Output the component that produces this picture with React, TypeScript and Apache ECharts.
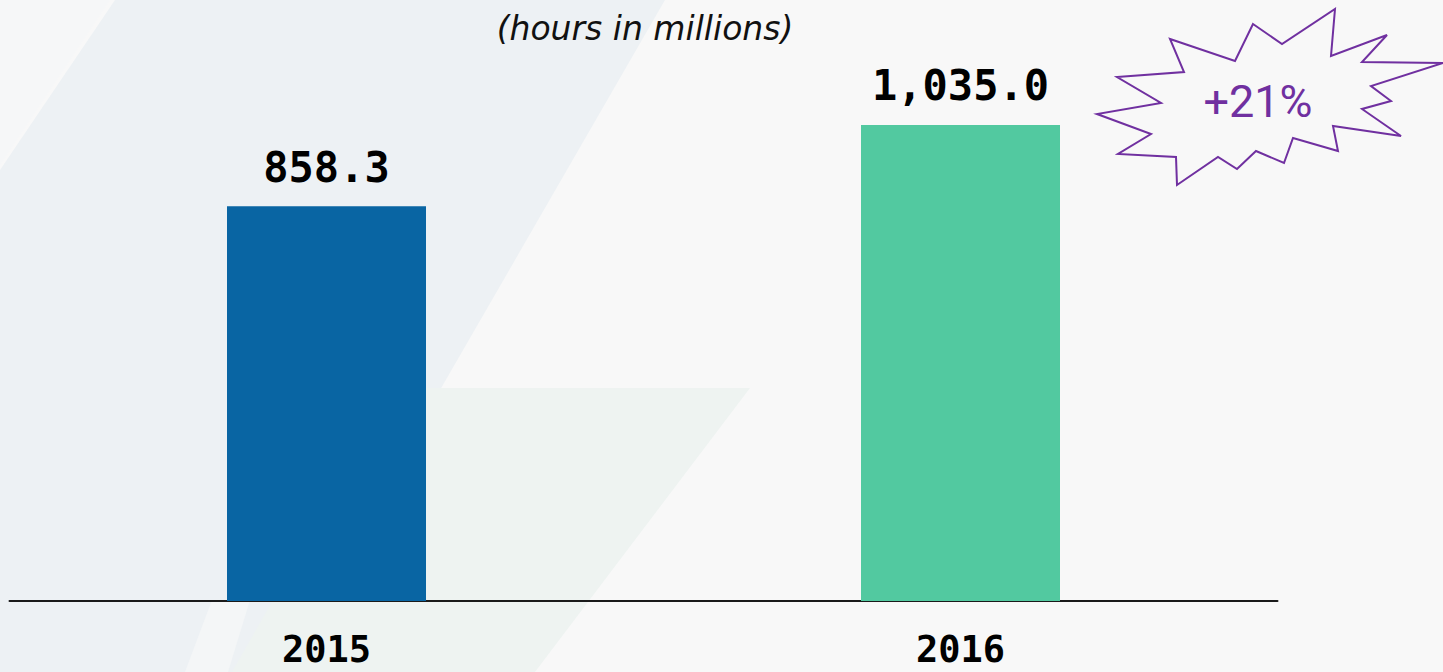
import React, { useEffect, useRef } from "react";
import * as echarts from "echarts";

const categories = ["2015", "2016"];
const hours = [858.3, 1035.0];
const valueLabels = ["858.3", "1,035.0"];
const barColors = ["#0965A3", "#52C9A0"];
const subtitle = "(hours in millions)";
const growthLabel = "+21%";

const burst: number[][] = [
  [1253, 24], [1282, 44], [1335, 9], [1331, 56], [1387, 35], [1362, 62],
  [1443, 63], [1371, 86], [1391, 101], [1362, 109], [1401, 136], [1333, 126],
  [1338, 151], [1293, 138], [1284, 163], [1256, 151], [1237, 169], [1218, 157],
  [1177, 185], [1176, 157], [1118, 154], [1151, 134], [1097, 114], [1161, 103],
  [1117, 77], [1184, 72], [1170, 39], [1235, 61],
];

export default function App() {
  const ref = useRef<HTMLDivElement>(null);
  useEffect(() => {
    if (!ref.current) return;
    const chart = echarts.init(ref.current, undefined, { renderer: "svg" });
    chart.setOption({
      animation: false,
      backgroundColor: "#f8f8f8",
      grid: { left: 9.5, right: 165.5, top: 3, bottom: 71 },
      xAxis: {
        type: "category",
        data: categories,
        axisLine: { show: true, lineStyle: { color: "#1a1a1a", width: 2 } },
        axisTick: { show: false },
        axisLabel: {
          margin: 31,
          color: "#000",
          fontFamily: "DejaVu Sans Mono",
          fontWeight: "bold",
          fontSize: 37,
          lineHeight: 34,
        },
      },
      yAxis: {
        type: "value",
        min: 0,
        max: 1300,
        show: false,
        splitLine: { show: false },
      },
      series: [
        {
          type: "bar",
          barWidth: 199,
          data: hours.map((v, i) => ({
            value: v,
            itemStyle: { color: barColors[i] },
            label: { formatter: valueLabels[i] },
          })),
          label: {
            show: true,
            position: "top",
            distance: 18,
            color: "#000",
            fontFamily: "DejaVu Sans Mono",
            fontWeight: "bold",
            fontSize: 42,
          },
        },
      ],
      graphic: [
        {
          type: "polygon",
          z: -10,
          silent: true,
          shape: { points: [[115, 0], [665, 0], [440, 390], [300, 672], [0, 672], [0, 170]] },
          style: { fill: "#edf1f4" },
        },
        {
          type: "polygon",
          z: -9,
          silent: true,
          shape: { points: [[426, 388], [750, 388], [535, 672], [232, 672], [330, 500]] },
          style: { fill: "#eef3f1" },
        },
        {
          type: "polygon",
          z: -8,
          silent: true,
          shape: { points: [[185, 672], [212, 600], [250, 600], [228, 672]] },
          style: { fill: "#f4f6f7" },
        },
        {
          type: "polygon",
          z: -8,
          silent: true,
          shape: { points: [[0, 0], [110, 0], [0, 165]] },
          style: { fill: "#f6f7f8" },
        },
        {
          type: "text",
          z: 5,
          x: 645,
          y: 28,
          style: {
            text: subtitle,
            x: 0,
            y: 0,
            textAlign: "center",
            textVerticalAlign: "middle",
            fontFamily: "DejaVu Sans",
            fontStyle: "italic",
            fontSize: 33,
            fill: "#111",
          },
        },
        {
          type: "polygon",
          z: 10,
          shape: { points: burst },
          style: { fill: "#f8f8f8", stroke: "#7030A0", lineWidth: 2 },
        },
        {
          type: "text",
          z: 11,
          x: 1258,
          y: 101,
          style: {
            text: growthLabel,
            x: 0,
            y: 0,
            textAlign: "center",
            textVerticalAlign: "middle",
            fontFamily: "Roboto",
            fontSize: 45,
            fill: "#7030A0",
          },
        },
      ],
    });
    return () => chart.dispose();
  }, []);
  return (
    <div
      ref={ref}
      style={{ position: "absolute", left: 0, top: 0, width: 1443, height: 672 }}
    />
  );
}
